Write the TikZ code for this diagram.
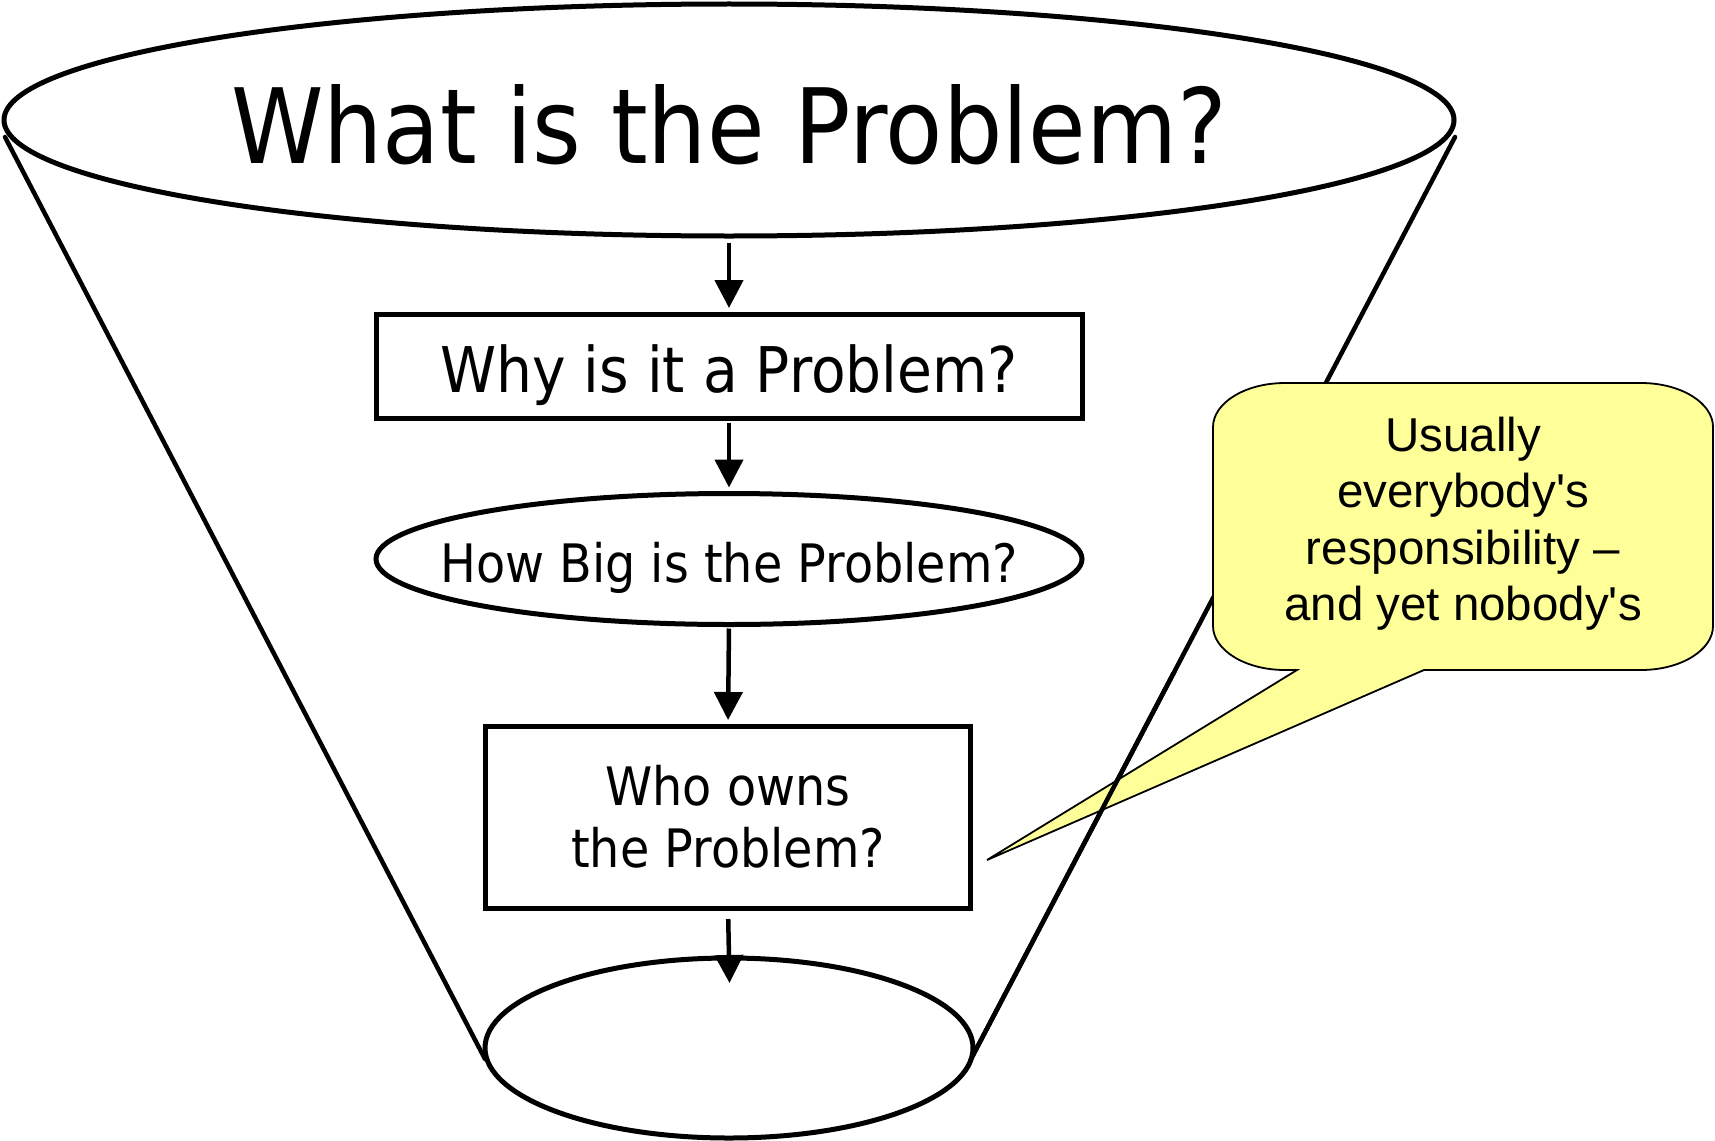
\documentclass[tikz,border=0pt]{standalone}
\usepackage{fontspec}
\setmainfont{DejaVu Sans}[FakeStretch=0.9]
\newfontfamily\calloutfont{Liberation Sans}
\usetikzlibrary{shapes.geometric,arrows.meta}
\definecolor{calloutyellow}{HTML}{FFFF99}
\begin{document}
\begin{tikzpicture}[x=1pt,y=-1pt,
  outline/.style={draw=black,line width=5pt,fill=white,inner sep=0pt,outer sep=0pt},
  oval/.style={outline,ellipse},
  stepbox/.style={outline,rectangle},
  flow/.style={line width=4.5pt,-{Triangle[length=28pt,width=28pt]}},
  side/.style={line width=4.5pt,line cap=round},
  balloon/.style={draw=black,line width=1.8pt,fill=calloutyellow,line join=miter}]
\useasboundingbox (0,0) rectangle (1715,1140);

% funnel sides
\coordinate (tl) at (5,137);
\coordinate (tr) at (1455,137);
\coordinate (bl) at (485,1059);
\coordinate (br) at (971,1059);
\draw[side] (tl) -- (bl);
\draw[side] (tr) -- (br);

% funnel rims
\node[oval,minimum width=1450pt,minimum height=232pt,text height=86pt,text depth=0pt,
      font=\fontsize{104}{120}\selectfont] (top) at (729,120)
      {\makebox[0pt]{What is the Problem?}};
\node[oval,minimum width=488pt,minimum height=180pt] (bottom) at (729,1048) {};

% question steps
\node[stepbox,minimum width=706pt,minimum height=104pt,text height=52pt,text depth=0pt,
      font=\fontsize{63}{75}\selectfont] (why) at (729,366)
      {Why is it a Problem?};
\node[oval,minimum width=706pt,minimum height=131pt,text height=46pt,text depth=0pt,
      font=\fontsize{53}{64}\selectfont] (big) at (729,559)
      {\makebox[0pt]{How Big is the Problem?}};
\node[stepbox,minimum width=485pt,minimum height=182pt,align=center,
      font=\fontsize{53}{62}\selectfont] (owner) at (728,817)
      {Who owns\\the Problem?};

% flow arrows
\draw[flow,shorten <=7pt,shorten >=6pt] (top.south) -- (why.north);
\draw[flow,shorten <=5pt,shorten >=6pt] (why.south) -- (big.north);
\draw[flow,shorten <=4pt,shorten >=6pt] (big.south) -- (owner.north);
\draw[flow,shorten <=11pt,shorten >=-25pt] (owner.south) -- (bottom.north);

% callout balloon
\coordinate (tip) at (987,860);
\draw[balloon]
  (1285,383) -- (1641,383)
  .. controls (1681,383) and (1713,403) .. (1713,427)
  -- (1713,626)
  .. controls (1713,650) and (1681,670) .. (1641,670)
  -- (1424,670) -- (tip) -- (1297,670) -- (1285,670)
  .. controls (1245,670) and (1213,650) .. (1213,626)
  -- (1213,427)
  .. controls (1213,403) and (1245,383) .. (1285,383) -- cycle;
\node[align=center,inner sep=0pt,
      font=\calloutfont\fontsize{47.5}{56.5}\selectfont] (note) at (1463,523.5)
      {Usually\\everybody's\\responsibility \textendash\\and yet nobody's};

% the funnel side stays visible across the balloon's pointer
\begin{scope}
  \clip (900,672) rectangle (1715,1140);
  \draw[side] (tr) -- (br);
\end{scope}
\end{tikzpicture}
\end{document}
